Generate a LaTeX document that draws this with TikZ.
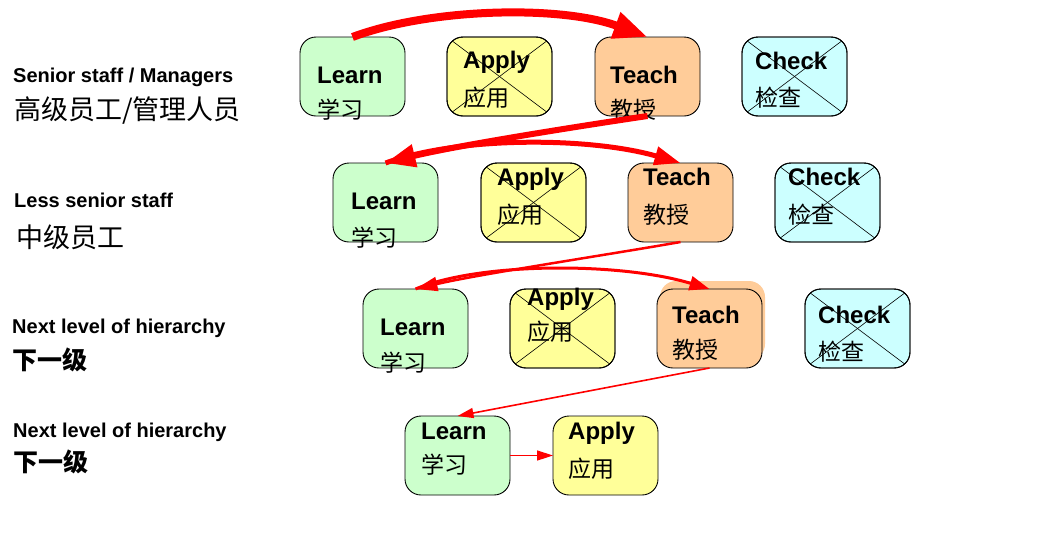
\documentclass[tikz,border=0pt]{standalone}
\usepackage{fontspec}
\setmainfont{Liberation Sans}
\newfontfamily\cjk{Noto Sans CJK SC}
\usetikzlibrary{arrows.meta}
\definecolor{learnc}{HTML}{CCFFCC}
\definecolor{applyc}{HTML}{FFFF99}
\definecolor{teachc}{HTML}{FFCC99}
\definecolor{checkc}{HTML}{CCFFFF}
\tikzset{
  box/.style={draw=black, line width=0.9pt, rounded corners=16pt, minimum width=105pt, minimum height=79pt, inner sep=0pt, outer sep=0pt},
  learnbox/.style={box, fill=learnc},
  applybox/.style={box, fill=applyc},
  teachbox/.style={box, fill=teachc},
  checkbox/.style={box, fill=checkc},
  en/.style={anchor=base west, inner sep=0pt, font=\fontsize{24}{28}\selectfont\bfseries},
  zh/.style={anchor=base west, inner sep=0pt, font=\fontsize{23}{27}\selectfont\cjk},
  side/.style={anchor=base west, inner sep=0pt, font=\fontsize{20}{24}\selectfont\bfseries},
  sidezh/.style={anchor=base west, inner sep=0pt, font=\fontsize{27}{31}\selectfont\cjk},
  sidezhb/.style={anchor=base west, inner sep=0pt, font=\fontsize{25}{30}\selectfont\cjk\bfseries},
  rarrow/.style={draw=red, line join=round},
  xline/.style={draw=black, line width=0.6pt}
}
% #1 name, #2 style, #3 left, #4 top, #5 text x, #6 word baseline, #7 word, #8 cjk baseline, #9 cjk
\newcommand\mkbox[9]{%
  \node[#2, anchor=north west] (#1) at (#3,#4) {};
  \node[en] (#1e) at (#5,#6) {#7};
  \node[zh] (#1z) at (#5,#8) {#9};
}
\newcommand\crossbox[1]{%
  \begin{scope}
    \clip[rounded corners=16pt] (#1.south west) rectangle (#1.north east);
    \draw[xline] (#1.north west) -- (#1.south east);
    \draw[xline] (#1.south west) -- (#1.north east);
  \end{scope}
  \draw[line width=0.9pt, rounded corners=16pt] (#1.south west) rectangle (#1.north east);
}
\begin{document}
\begin{tikzpicture}[x=1pt,y=-1pt]
\fill[white] (0,0) rectangle (1060,536);
\useasboundingbox (0,0) rectangle (1060,536);

% side labels
\node[side] (s1) at (13,82) {Senior staff / Managers};
\node[sidezh] (s1z) at (14,119) {高级员工/管理人员};
\node[side] (s2) at (14,207) {Less senior staff};
\node[sidezh] (s2z) at (16,247) {中级员工};
\node[side] (s3) at (12,333) {Next level of hierarchy};
\node[sidezhb] (s3z) at (12,369) {下一级};
\node[side] (s4) at (13,437) {Next level of hierarchy};
\node[sidezhb] (s4z) at (13,471) {下一级};

% shadow of third-row teach box
\node[box, draw=none, fill=teachc, anchor=north west] (T3s) at (660,281) {};

% boxes, row 1
\mkbox{L1}{learnbox}{300}{37}{317}{83}{Learn}{118}{学习}
\node[applybox, anchor=north west] (A1) at (447,37) {};
\crossbox{A1}
\node[en] (A1e) at (463,68) {Apply};
\node[zh] (A1z) at (463,106) {应用};
\mkbox{T1}{teachbox}{595}{37}{610}{83}{Teach}{118}{教授}
\node[checkbox, anchor=north west] (C1) at (742,37) {};
\crossbox{C1}
\node[en] (C1e) at (755,69) {Check};
\node[zh] (C1z) at (755,106) {检查};

% row 2
\mkbox{L2}{learnbox}{333}{163}{351}{209}{Learn}{246}{学习}
\node[applybox, anchor=north west] (A2) at (481,163) {};
\crossbox{A2}
\node[en] (A2e) at (497,185) {Apply};
\node[zh] (A2z) at (497,223) {应用};
\mkbox{T2}{teachbox}{628}{163}{643}{185}{Teach}{223}{教授}
\node[checkbox, anchor=north west] (C2) at (775,163) {};
\crossbox{C2}
\node[en] (C2e) at (788,185) {Check};
\node[zh] (C2z) at (788,223) {检查};

% row 3
\mkbox{L3}{learnbox}{363}{289}{380}{335}{Learn}{371}{学习}
\node[applybox, anchor=north west] (A3) at (510,289) {};
\crossbox{A3}
\node[en] (A3e) at (527,305) {Apply};
\node[zh] (A3z) at (527,340) {应用};
\mkbox{T3}{teachbox}{657}{289}{672}{323}{Teach}{358}{教授}
\node[checkbox, anchor=north west] (C3) at (805,289) {};
\crossbox{C3}
\node[en] (C3e) at (818,323) {Check};
\node[zh] (C3z) at (818,360) {检查};

% row 4
\mkbox{L4}{learnbox}{405}{416}{421}{439}{Learn}{473}{学习}
\mkbox{A4}{applybox}{553}{416}{568}{439}{Apply}{477}{应用}

% arrows
\draw[rarrow, line width=8pt, -{Triangle[length=34pt,width=26pt]}]
  (L1.north) .. controls (430,8) and (560,5) .. (T1.north);
\draw[rarrow, line width=6pt, -{Triangle[length=30pt,width=22pt]}]
  (T1.south) .. controls (560,129) and (450,147) .. (L2.north);
\draw[rarrow, line width=5pt, -{Triangle[length=26pt,width=18pt]}]
  (L2.north) .. controls (460,136) and (590,137) .. (T2.north);
\draw[rarrow, line width=2.5pt, -{Triangle[length=22pt,width=14pt]}]
  (T2.south) .. controls (600,256) and (480,274) .. (L3.north);
\draw[rarrow, line width=3pt, -{Triangle[length=20pt,width=14pt]}]
  (L3.north) .. controls (480,262) and (620,262) .. (T3.north);
\draw[rarrow, line width=1.6pt, -{Triangle[length=16pt,width=10pt]}]
  (T3.south) -- (L4.north);
\draw[rarrow, line width=1.5pt, -{Triangle[length=16pt,width=10pt]}]
  (L4.east) -- (A4.west);
\end{tikzpicture}
\end{document}
